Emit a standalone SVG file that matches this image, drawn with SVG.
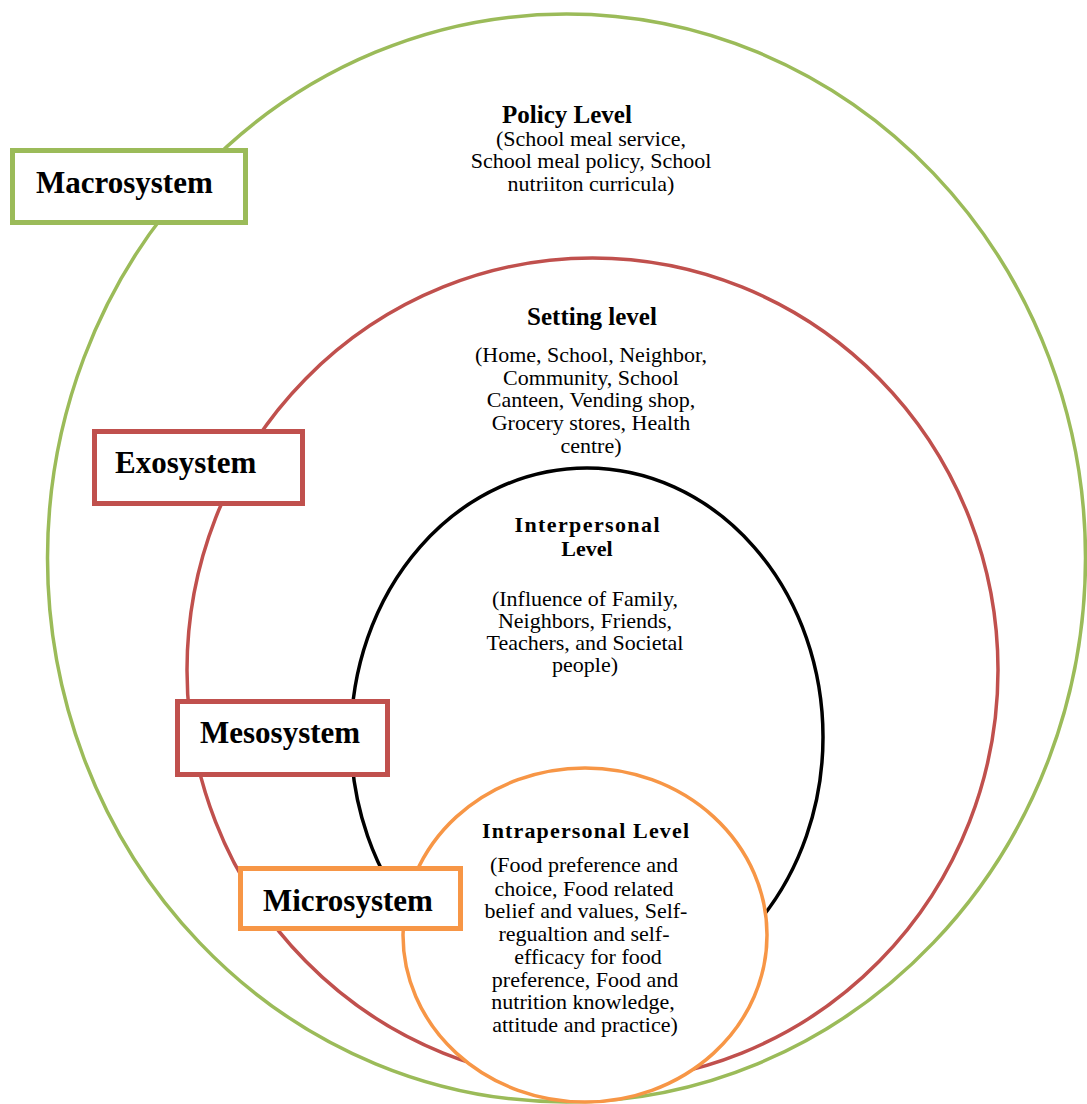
<svg xmlns="http://www.w3.org/2000/svg" width="1087" height="1104" viewBox="0 0 1087 1104">
<style>
.ring{fill:none;stroke-width:3.5}
.box{fill:#fff;stroke-width:5}
.lbl{font-family:"Liberation Serif","Times New Roman",serif;font-weight:bold;font-size:31px;fill:#000}
.hd{font-family:"Liberation Serif","Times New Roman",serif;font-weight:bold;font-size:25px;fill:#000;text-anchor:middle}
.hd2{font-family:"Liberation Serif","Times New Roman",serif;font-weight:bold;font-size:22px;fill:#000;text-anchor:middle}
.bd{font-family:"Liberation Serif","Times New Roman",serif;font-size:22px;fill:#000;text-anchor:middle}
</style>
<rect width="1087" height="1104" fill="#fff"/>
<g id="macro-ring"><ellipse class="ring" cx="566.5" cy="558" rx="519" ry="544" stroke="#9BBB59"/></g>
<g id="exo-ring"><ellipse class="ring" cx="592.5" cy="670" rx="405.5" ry="412" stroke="#C0504D"/></g>
<g id="meso-ring"><ellipse class="ring" cx="587" cy="737" rx="236" ry="269" stroke="#000"/></g>
<g id="micro-ring"><ellipse class="ring" cx="585" cy="935" rx="182" ry="167" stroke="#F79646" style="fill:#fff"/></g>
<g id="connectors"></g>
<g id="policy-text">
<text class="hd" x="567" y="123">Policy Level</text>
<text class="bd" x="591" y="146">(School meal service,</text>
<text class="bd" x="591" y="168">School meal policy, School</text>
<text class="bd" x="591" y="191">nutriiton curricula)</text>
</g>
<g id="setting-text">
<text class="hd" x="592" y="325">Setting level</text>
<text class="bd" x="591" y="362">(Home, School, Neighbor,</text>
<text class="bd" x="591" y="385">Community, School</text>
<text class="bd" x="591" y="407">Canteen, Vending shop,</text>
<text class="bd" x="591" y="430">Grocery stores, Health</text>
<text class="bd" x="591" y="453">centre)</text>
</g>
<g id="interpersonal-text">
<text class="hd2" x="587" y="532" textLength="145" lengthAdjust="spacing">Interpersonal</text>
<text class="hd2" x="587" y="556">Level</text>
<text class="bd" x="585" y="606">(Influence of Family,</text>
<text class="bd" x="585" y="628">Neighbors, Friends,</text>
<text class="bd" x="585" y="650">Teachers, and Societal</text>
<text class="bd" x="585" y="672">people)</text>
</g>
<g id="intrapersonal-text">
<text class="hd2" x="585.5" y="838" textLength="207" lengthAdjust="spacing">Intrapersonal Level</text>
<text class="bd" x="584" y="872">(Food preference and</text>
<text class="bd" x="584" y="896">choice, Food related</text>
<text class="bd" x="586" y="918">belief and values, Self-</text>
<text class="bd" x="584" y="941">regualtion and self-</text>
<text class="bd" x="588" y="964">efficacy  for food</text>
<text class="bd" x="585" y="987">preference, Food and</text>
<text class="bd" x="583" y="1009">nutrition knowledge,</text>
<text class="bd" x="585" y="1032">attitude and practice)</text>
</g>
<g id="macrosystem"><rect class="box" x="12.5" y="150.5" width="233" height="72" stroke="#9BBB59"/><text class="lbl" x="36" y="193">Macrosystem</text></g>
<g id="exosystem"><rect class="box" x="94.5" y="431.5" width="208" height="72" stroke="#C0504D"/><text class="lbl" x="115" y="473">Exosystem</text></g>
<g id="mesosystem"><rect class="box" x="177.5" y="701.5" width="210" height="73" stroke="#C0504D"/><text class="lbl" x="200" y="743">Mesosystem</text></g>
<g id="microsystem"><rect class="box" x="240.5" y="868.5" width="220" height="60" stroke="#F79646"/><text class="lbl" x="263" y="911">Microsystem</text></g>
</svg>
